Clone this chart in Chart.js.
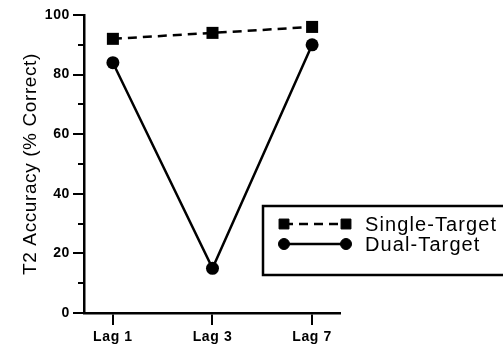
<!DOCTYPE html>
<html>
<head>
<meta charset="utf-8">
<script src="https://cdn.jsdelivr.net/npm/chart.js@4/dist/chart.umd.min.js"></script>
<style>
  html, body { margin: 0; padding: 0; background: #fff; }
  #wrap { width: 503px; height: 349px; }
</style>
</head>
<body>
<div id="wrap"><canvas id="c"></canvas></div>
<script>
// Lag conditions and T2 accuracy per condition
const categories = ['Lag 1', 'Lag 3', 'Lag 7'];
const singleTarget = [92, 94, 96];
const dualTarget = [84, 15, 90];
const yMajorTicks = [0, 20, 40, 60, 80, 100];
const yMinorTicks = [10, 30, 50, 70, 90];
const seriesNames = ['Single-Target', 'Dual-Target'];

const FONT = '"Liberation Sans", Arial, Helvetica, sans-serif';

const toPoints = vals => vals.map((v, i) => ({ x: i, y: v }));

// slightly wider letter spacing for all chart text
const spacing = {
  id: 'spacing',
  beforeDraw(chart) { chart.ctx.letterSpacing = '0.6px'; }
};

// short minor ticks on the y axis and the boxed legend
const extras = {
  id: 'extras',
  afterDraw(chart) {
    const ctx = chart.ctx;
    const rows = [224, 244];
    const y = chart.scales.y;
    const left = chart.chartArea.left;
    ctx.save();
    ctx.strokeStyle = '#000';
    ctx.fillStyle = '#000';
    ctx.lineWidth = 2;
    yMinorTicks.forEach(v => {
      const py = Math.round(y.getPixelForValue(v));
      ctx.beginPath();
      ctx.moveTo(left - 6, py);
      ctx.lineTo(left, py);
      ctx.stroke();
    });

    // legend frame
    ctx.lineWidth = 2.5;
    ctx.strokeRect(263, 206, 260, 69);

    chart.data.datasets.forEach((ds, i) => {
      const ry = rows[i];
      const x1 = 284, x2 = 346;
      ctx.beginPath();
      ctx.setLineDash(ds.borderDash || []);
      ctx.lineWidth = ds.borderWidth;
      ctx.moveTo(x1, ry);
      ctx.lineTo(x2, ry);
      ctx.stroke();
      ctx.setLineDash([]);
      [x1, x2].forEach(px => {
        ctx.fillStyle = '#000';
        ctx.strokeStyle = '#000';
        ctx.lineWidth = 1;
        Chart.helpers.drawPoint(ctx, {
          pointStyle: ds.pointStyle,
          radius: ds.pointStyle === 'rect' ? 7 : 5.5,
          rotation: 0,
          borderWidth: 1
        }, px, ry);
      });
      ctx.fillStyle = '#000';
      ctx.letterSpacing = '1.1px';
      ctx.font = '20px ' + FONT;
      ctx.textBaseline = 'middle';
      ctx.textAlign = 'left';
      ctx.fillText(ds.label, 365, ry + 1);
    });
    ctx.restore();
  }
};

new Chart(document.getElementById('c'), {
  type: 'line',
  data: {
    datasets: [
      {
        label: seriesNames[0],
        data: toPoints(singleTarget),
        borderColor: '#000',
        backgroundColor: '#000',
        borderWidth: 2.5,
        borderDash: [9, 6],
        pointStyle: 'rect',
        pointRadius: 8.5,
        pointBorderWidth: 0,
        tension: 0
      },
      {
        label: seriesNames[1],
        data: toPoints(dualTarget),
        borderColor: '#000',
        backgroundColor: '#000',
        borderWidth: 2.5,
        pointStyle: 'circle',
        pointRadius: 6.5,
        pointBorderWidth: 0,
        tension: 0
      }
    ]
  },
  options: {
    responsive: true,
    maintainAspectRatio: false,
    animation: false,
    layout: { padding: { top: 15, right: 163, bottom: 0, left: 0 } },
    plugins: { legend: { display: false }, tooltip: { enabled: false } },
    scales: {
      x: {
        type: 'linear',
        min: -0.29,
        max: 2.28,
        afterBuildTicks: s => { s.ticks = categories.map((_, i) => ({ value: i })); },
        afterFit: s => { s.height = 36; },
        border: { display: true, color: '#000', width: 2.5 },
        grid: { display: true, drawOnChartArea: false, color: '#000', lineWidth: 2, tickLength: 12 },
        ticks: {
          color: '#000',
          padding: 4,
          maxRotation: 0,
          font: { family: FONT, size: 14, weight: 'bold' },
          callback: v => categories[v]
        }
      },
      y: {
        min: 0,
        max: 100,
        afterBuildTicks: s => { s.ticks = yMajorTicks.map(v => ({ value: v })); },
        afterFit: s => { s.width = 84; },
        border: { display: true, color: '#000', width: 2.5 },
        grid: { display: true, drawOnChartArea: false, color: '#000', lineWidth: 2, tickLength: 11 },
        ticks: {
          color: '#000',
          padding: 3,
          font: { family: FONT, size: 14, weight: 'bold' }
        },
        title: {
          display: true,
          text: 'T2 Accuracy (% Correct)',
          color: '#000',
          font: { family: FONT, size: 19 },
          padding: { top: 19, bottom: 0 }
        }
      }
    }
  },
  plugins: [spacing, extras]
});
</script>
</body>
</html>
